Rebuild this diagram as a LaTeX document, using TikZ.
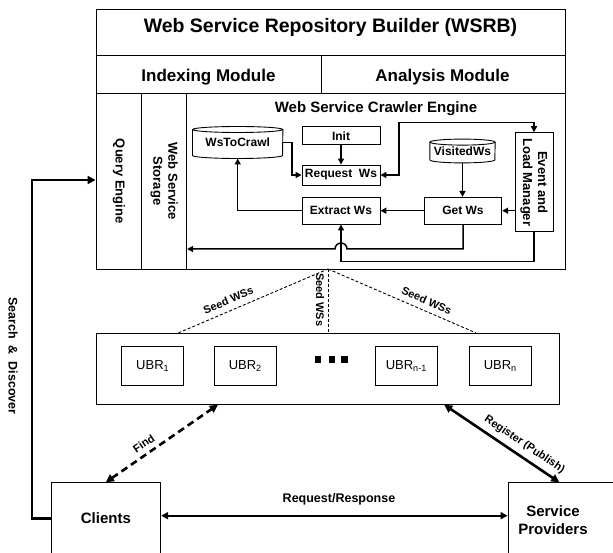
\documentclass[tikz,border=0pt]{standalone}
\usepackage{fontspec}
\setmainfont{Liberation Sans}
\usetikzlibrary{arrows.meta,calc,fit}
\newcommand\fsz[2]{\fontsize{#1}{#2}\selectfont}
\begin{document}
\begin{tikzpicture}[x=1pt,y=1pt,
  cell/.style={draw,line width=0.9pt,inner sep=0pt},
  bx/.style={draw,line width=0.9pt,inner sep=0pt,align=center,font=\fsz{12}{14}\bfseries},
  ubrbox/.style={draw,line width=0.9pt,inner sep=0pt,minimum width=62,minimum height=39.7,font=\fsz{13}{15}},
  cyl/.style={inner sep=0pt,font=\fsz{12}{14}\bfseries},
  vtext/.style={rotate=-90,align=center,font=\fsz{13}{15}\bfseries},
  ar/.style={line width=1.5pt,-{Triangle[length=6pt,width=6pt]}},
  arboth/.style={line width=1.5pt,{Triangle[length=6pt,width=6pt]}-{Triangle[length=6pt,width=6pt]}},
  seed/.style={line width=0.9pt,dash pattern=on 3pt off 2pt},
  seedlbl/.style={font=\fsz{11}{13}\bfseries},
  findline/.style={line width=2.6pt,dash pattern=on 7pt off 4.5pt,{Triangle[length=8pt,width=8pt]}-{Triangle[length=8pt,width=8pt]}},
  regline/.style={line width=2.6pt,{Triangle[length=8pt,width=8pt]}-{Triangle[length=8pt,width=8pt]}},
  rrline/.style={line width=1.8pt,{Triangle[length=7pt,width=7pt]}-{Triangle[length=7pt,width=7pt]}},
  sdline/.style={line width=2.8pt,-{Triangle[length=8pt,width=8pt]}},
  lbl/.style={font=\fsz{11}{13}\bfseries}]
\useasboundingbox (0,0) rectangle (613,-553);
\clip (0,0) rectangle (613,-553);

% ---------- WSRB main block ----------
\node[cell,fit={(96,-9.5)(565,-55)}] (title) {};
\node[cell,fit={(96,-55)(321.7,-93.3)}] (idx) {};
\node[cell,fit={(321.7,-55)(565,-93.3)}] (ana) {};
\node[cell,fit={(96,-93.3)(141.7,-269)}] (qe) {};
\node[cell,fit={(141.7,-93.3)(186.7,-269)}] (wss) {};
\node[cell,fit={(186.7,-93.3)(565,-269)}] (crawl) {};

\node[anchor=base,font=\fsz{19.5}{22}\bfseries] (ttl) at (330.5,-32.7) {Web Service Repository Builder (WSRB)};
\node[anchor=base,font=\fsz{17}{20}\bfseries] (idxt) at (208.5,-81.7) {Indexing Module};
\node[anchor=base,font=\fsz{17}{20}\bfseries] (anat) at (442.5,-81.7) {Analysis Module};
\node[anchor=base,font=\fsz{15}{18}\bfseries] (crt) at (376,-112.7) {Web Service Crawler Engine};
\node[vtext] (qet) at (qe.center) {Query Engine};
\node[vtext] (wsst) at (wss.center) {Web Service\\Storage};

% crawler components
\node[cyl,minimum width=90,minimum height=31.6] (wstc) at (237.7,-142.5) {\raisebox{-2pt}{WsToCrawl}};
\draw[line width=0.9pt] ($(wstc.north west)+(0,-3)$) -- ($(wstc.south west)+(0,3)$)
  arc[start angle=180,end angle=360,x radius=45,y radius=3] -- ($(wstc.north east)+(0,-3)$);
\draw[line width=0.9pt] ($(wstc.north)+(0,-3)$) ellipse[x radius=45,y radius=3];

\node[cyl,minimum width=65,minimum height=23.4] (vis) at (462.5,-151) {\raisebox{-2pt}{VisitedWs}};
\draw[line width=0.9pt] ($(vis.north west)+(0,-3)$) -- ($(vis.south west)+(0,3)$)
  arc[start angle=180,end angle=360,x radius=32.5,y radius=3] -- ($(vis.north east)+(0,-3)$);
\draw[line width=0.9pt] ($(vis.north)+(0,-3)$) ellipse[x radius=32.5,y radius=3];

\node[bx,minimum width=78,minimum height=18.3] (init) at (341,-135.8) {Init};
\node[bx,minimum width=78,minimum height=20] (req) at (341,-175) {Request\ \ Ws};
\node[bx,minimum width=78,minimum height=26.7] (extract) at (341,-210.7) {Extract Ws};
\node[bx,minimum width=77.4,minimum height=26.7] (getws) at (463,-210.7) {Get Ws};
\node[bx,minimum width=38,minimum height=99] (event) at (534,-182.2) {};
\node[vtext] (eventt) at (event.center) {Event and\\Load Manager};

\coordinate (c1) at (399,-122.7);
\coordinate (c2) at (341,-261.7);
\coordinate (j1) at (347,-249);

\draw[ar] (wstc.east) -- ++(9,0) |- (req.west);
\draw[ar] (init.south) -- (req.north);
\draw[arboth] (req.east) -| (c1) -| (event.north);
\draw[ar] (vis.south) -- (vis.south |- getws.north);
\draw[ar] (event.west |- getws.east) -- (getws.east);
\draw[ar] (getws.west) -- (extract.east);
\draw[ar] (extract.west) -| (wstc.south);
\draw[ar] (event.south) |- (c2) -- (extract.south);
\draw[ar] (getws.south) |- (j1) arc[start angle=0,end angle=180,radius=6] -- (wss.east |- j1);

% ---------- UBR block ----------
\node[cell,fit={(96,-333.3)(559.7,-404.3)}] (ubr) {};
\node[ubrbox] (u1) at (152.7,-365.85) {UBR\textsubscript{1}};
\node[ubrbox] (u2) at (245.3,-365.85) {UBR\textsubscript{2}};
\node[ubrbox] (u3) at (406.3,-365.85) {UBR\textsubscript{n-1}};
\node[ubrbox] (u4) at (500.3,-365.85) {UBR\textsubscript{n}};
\fill (314.5,-356) rectangle ++(6.5,-6.5);
\fill (328.5,-356) rectangle ++(6.5,-6.5);
\fill (341,-356) rectangle ++(6.5,-6.5);

\coordinate (apex) at (328,-269);
\coordinate (s1) at ($(ubr.north west)+(83,0)$);
\coordinate (s2) at (apex |- ubr.north);
\coordinate (s3) at ($(ubr.north west)+(380.3,0)$);
\draw[seed] (s1) -- node[pos=0.36,sloped,above=2.5pt,seedlbl] {Seed WSs} (apex);
\draw[seed] (apex) -- node[pos=0.64,sloped,above=2.5pt,seedlbl] {Seed WSs} (s3);
\draw[seed] (apex) -- node[pos=0.48,rotate=-90,anchor=north,inner sep=3.5pt,seedlbl] {Seed WSs} (s2);

% ---------- Clients / Providers ----------
\node[cell,fit={(51,-482.7)(160.7,-554.5)}] (clients) {};
\node[font=\fsz{15}{18}\bfseries] (clt) at (clients.center) {Clients};
\node[cell,fit={(508,-482.7)(640,-560)}] (sp) {};
\node[align=center,font=\fsz{15}{18}\bfseries] (spt) at (553,-520.5) {Service\\Providers};

\coordinate (f1) at ($(ubr.south west)+(122.3,0)$);
\coordinate (r1) at ($(ubr.south west)+(348.7,0)$);
\coordinate (r2) at ($(sp.north west)+(51.7,0)$);
\coordinate (rr) at (0,-515.7);
\coordinate (sd) at (32,-180);

\draw[findline] (clients.north) -- node[pos=0.39,sloped,above=1.5pt,lbl] {Find} (f1);
\draw[regline] (r1) -- node[pos=0.64,sloped,above=2pt,lbl] {Register (Publish)} (r2);
\draw[rrline] (clients.east |- rr) -- (sp.west |- rr);
\node[anchor=base,font=\fsz{12.5}{15}\bfseries] (rrt) at (339,-502.7) {Request/Response};
\draw[sdline] (clients.west) -| (sd) -- (qe.west |- sd);
\node[rotate=-90,font=\fsz{12.5}{15}\bfseries] (sdt) at (13,-356) {Search\ \ \&\ \ Discover};
\end{tikzpicture}
\end{document}
